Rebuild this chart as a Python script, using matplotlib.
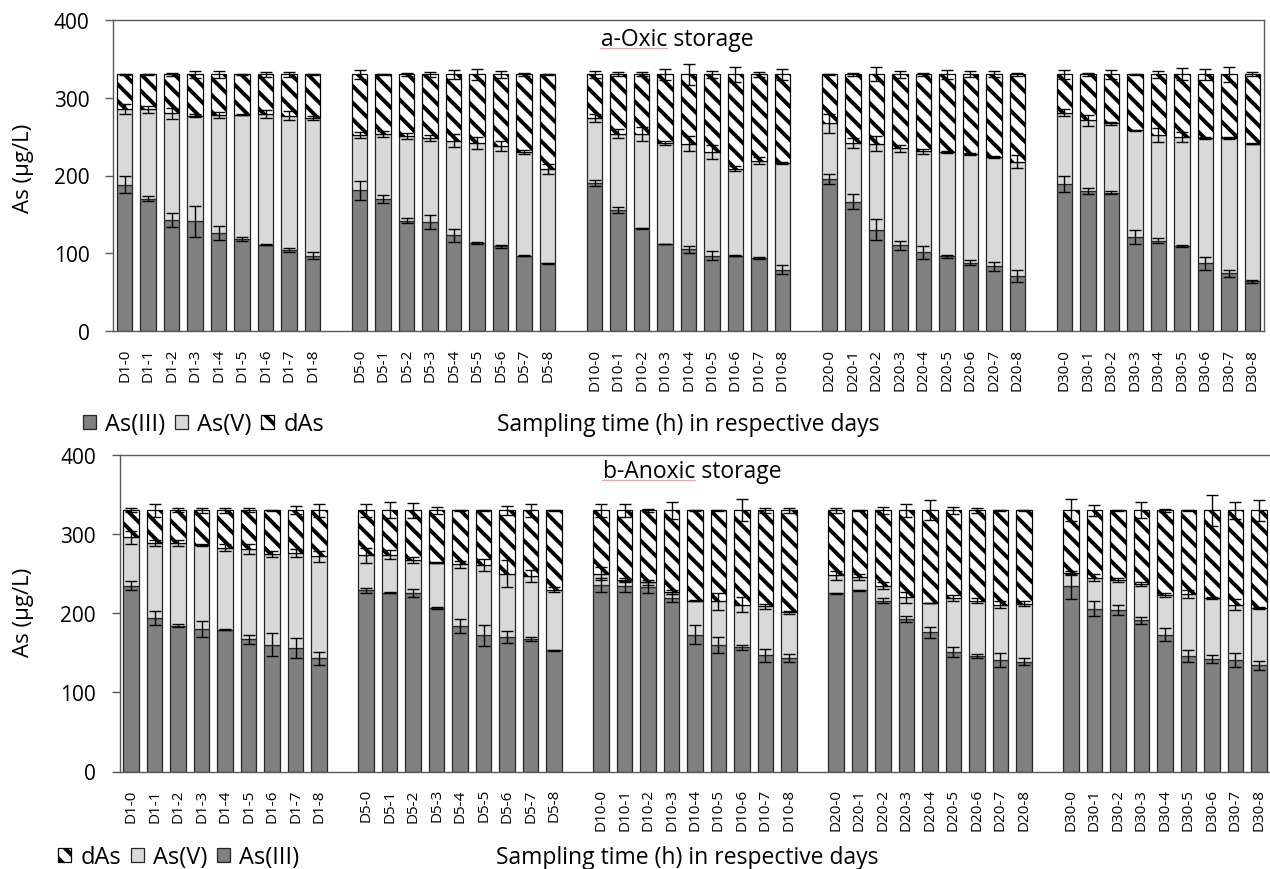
import matplotlib
matplotlib.use('Agg')
import matplotlib.pyplot as plt
from matplotlib.patches import Patch
from matplotlib.lines import Line2D
import numpy as np

plt.rcParams['font.family'] = ['Open Sans', 'DejaVu Sans']
plt.rcParams['hatch.linewidth'] = 2.8
plt.rcParams['hatch.color'] = 'black'

# ---------------- data ----------------
days = ['D1', 'D5', 'D10', 'D20', 'D30']
hours = ['0', '1', '2', '3', '4', '5', '6', '7', '8']
tick_labels = [f'{d}-{h}' for d in days for h in hours]

# a - Oxic storage (segment heights, µg/L)
oxic_as3 = [188, 170, 143, 141, 126, 118, 111, 104, 97,
            181, 170, 142, 140, 123, 113, 109, 97, 87,
            190, 156, 132, 112, 105, 97, 97, 94, 79,
            196, 166, 130, 110, 101, 96, 88, 83, 71,
            189, 180, 178, 121, 116, 109, 87, 74, 64]
oxic_as5 = [97, 115, 137, 136, 152, 160, 168, 173, 177,
            71, 83, 109, 108, 122, 129, 129, 133, 121,
            84, 98, 121, 130, 136, 133, 112, 125, 137,
            71, 76, 111, 125, 130, 134, 140, 141, 147,
            92, 91, 89, 137, 136, 141, 161, 174, 177]
oxic_das = [45, 45, 50, 53, 52, 52, 51, 53, 56,
            78, 77, 79, 82, 85, 88, 92, 100, 122,
            56, 76, 77, 88, 89, 100, 121, 111, 114,
            63, 88, 89, 95, 99, 100, 102, 106, 112,
            49, 59, 63, 72, 78, 80, 82, 82, 89]
oxic_err3 = [11, 3, 9, 20, 9, 2.4, 0.5, 3, 4,
             12, 5, 3, 9.4, 8.6, 1, 2, 0.5, 1,
             4, 4, 0.5, 0.5, 4.7, 5.4, 1, 1, 5.6,
             6.4, 9.7, 13.5, 5.4, 8, 2, 3.6, 5.8, 7.7,
             10, 3.4, 2, 8.6, 3.4, 1, 8.6, 4.3, 2]
oxic_err5 = [6.4, 4.7, 7, 2, 3.6, 0.5, 5, 6, 3,
             4, 3.6, 4, 4, 8.6, 8, 6, 2.6, 6.4,
             4.7, 6.4, 9, 2.8, 9.7, 9.2, 2.8, 4.7, 1,
             11.8, 6.4, 9.4, 4.7, 3.6, 1.5, 1.5, 1.5, 8.8,
             4, 7, 2, 0.5, 9.2, 6.4, 1, 1, 0.5]
oxic_errd = [1, 0.3, 1.5, 4, 4, 0.3, 3, 3, 0.3,
             5.4, 0.5, 2, 3, 6, 7.5, 4, 1.5, 1,
             4.3, 2.6, 2.6, 7.3, 13, 5, 9.2, 3.6, 7.5,
             0.3, 2, 9, 4.7, 1.5, 5.8, 3.8, 3.8, 2,
             5.4, 1.5, 5.4, 0.3, 5, 7.7, 7, 10, 2.6]

# b - Anoxic storage (segment heights, µg/L)
anox_as3 = [235, 194, 184, 180, 179, 167, 160, 156, 143,
            229, 226, 226, 207, 184, 172, 170, 167, 153,
            236, 234, 233, 219, 173, 160, 157, 147, 143,
            225, 229, 216, 193, 176, 151, 146, 141, 139,
            234, 206, 204, 191, 173, 146, 142, 141, 134]
anox_as5 = [61, 95, 105, 106, 104, 114, 115, 120, 129,
            44, 48, 41, 57, 78, 89, 80, 80, 77,
            14, 8, 6, 8, 43, 55, 54, 62, 58,
            23, 17, 19, 27, 37, 68, 70, 70, 73,
            17, 39, 38, 46, 50, 78, 77, 70, 73]
anox_das = [34, 41, 41, 44, 47, 49, 55, 54, 58,
            57, 56, 63, 66, 68, 69, 80, 83, 100,
            80, 88, 91, 103, 114, 115, 119, 121, 129,
            82, 84, 95, 110, 117, 111, 114, 119, 118,
            79, 85, 88, 93, 107, 106, 111, 119, 123]
anox_err3 = [6, 9, 2, 10, 0.5, 6, 14.5, 13, 8,
             3, 0.5, 5, 1, 9, 13, 8, 2.5, 1,
             9, 7, 7, 5, 12, 10, 3, 8, 5,
             0.5, 0.5, 3, 4, 7, 6, 3, 9, 4,
             16, 10, 6, 4.6, 8.4, 7, 5.5, 9, 6]
anox_err5 = [8, 4, 4, 1, 4, 6, 4, 5.5, 7,
             9, 5.5, 4, 1, 4.6, 8, 17, 8, 3,
             8, 3, 3, 3, 0.5, 11, 10, 3, 2,
             6, 4, 4, 7, 0.5, 4, 3, 4, 3,
             3, 4.6, 2, 2, 2, 5, 1, 6.7, 1]
anox_errd = [2.5, 8, 2.5, 3.5, 3.5, 2.5, 1, 5, 8,
             8, 10, 9, 4, 0.3, 0.3, 6, 8, 1,
             8, 8, 2, 11, 0.3, 0.3, 14, 3, 3,
             3, 1, 4, 8, 12.6, 4, 3, 0.3, 0.3,
             14, 7, 1, 10, 2, 0.3, 20, 10.5, 13]

# ---------------- styling ----------------
C3 = '#808080'
C5 = '#d9d9d9'
EDGE = '#262626'
SPINE = '#595959'
W, H = 1270, 870

fig = plt.figure(figsize=(W / 100, H / 100), dpi=100)


def fx(px):
    return px / W


def fy(py):
    return 1 - py / H


ax1 = fig.add_axes([fx(113), fy(332), fx(1264 - 113), (332 - 21) / H])
ax2 = fig.add_axes([fx(119.5), fy(772.5), fx(1270.5 - 119.5), (772.5 - 456) / H])

x = np.array([g * 10 + h for g in range(len(days)) for h in range(len(hours))])


def draw(ax, as3, as5, das, e3, e5, ed):
    as3 = np.array(as3, float)
    as5 = np.array(as5, float)
    das = np.array(das, float)
    bw = 0.66
    ax.bar(x, as3, width=bw, color=C3, edgecolor=EDGE, linewidth=0.9, zorder=2)
    ax.bar(x, as5, width=bw, bottom=as3, color=C5, edgecolor=EDGE, linewidth=0.9, zorder=2)
    ax.bar(x, das, width=bw, bottom=as3 + as5, color='white', edgecolor='black',
           hatch='\\\\', linewidth=0.9, zorder=2)
    kw = dict(fmt='none', ecolor='black', elinewidth=1.0, capsize=4, capthick=1.0, zorder=3)
    ax.errorbar(x, as3, yerr=e3, **kw)
    ax.errorbar(x, as3 + as5, yerr=e5, **kw)
    ax.errorbar(x, as3 + as5 + das, yerr=ed, **kw)
    ax.set_xlim(-0.5, x.max() + 0.5)
    ax.set_ylim(0, 400)
    ax.set_yticks([0, 100, 200, 300, 400])
    ax.set_xticks(x)
    ax.set_xticklabels(tick_labels, rotation=90, fontsize=11)
    ax.tick_params(axis='x', length=0, pad=12)
    ax.tick_params(axis='y', length=6, width=1, color=SPINE, pad=11, labelsize=15)
    for s in ax.spines.values():
        s.set_color(SPINE)
        s.set_linewidth(1)


draw(ax1, oxic_as3, oxic_as5, oxic_das, oxic_err3, oxic_err5, oxic_errd)
draw(ax2, anox_as3, anox_as5, anox_das, anox_err3, anox_err5, anox_errd)
ax2.spines['right'].set_visible(False)

for ax, yc in ((ax1, 168), (ax2, 612)):
    ax.set_ylabel('As (µg/L)', fontsize=16, va='center')
    ax.yaxis.set_label_coords(fx(23), fy(yc), transform=fig.transFigure)

ax1.text(fx(677), fy(40), 'a-Oxic storage', transform=fig.transFigure,
         ha='center', va='center', fontsize=16.5)
ax2.text(fx(692), fy(472), 'b-Anoxic storage', transform=fig.transFigure,
         ha='center', va='center', fontsize=16.5)
# spell-check underline seen in the source image
fig.add_artist(Line2D([fx(600), fx(667)], [fy(49), fy(49)], color='#f2a3a3', lw=0.8))
fig.add_artist(Line2D([fx(602), fx(695)], [fy(481), fy(481)], color='#f2a3a3', lw=0.8))

fig.text(fx(688), fy(425), 'Sampling time (h) in respective days', ha='center', va='center',
         fontsize=16.5)
fig.text(fx(687), fy(858), 'Sampling time (h) in respective days', ha='center', va='center',
         fontsize=16.5)

h3 = Patch(facecolor=C3, edgecolor=EDGE, linewidth=0.9, label='As(III)')
h5 = Patch(facecolor=C5, edgecolor=EDGE, linewidth=0.9, label='As(V)')
hd = Patch(facecolor='white', edgecolor='black', hatch='\\\\', linewidth=0.9, label='dAs')
legkw = dict(loc='center left', ncol=3, frameon=False, fontsize=17, handlelength=0.55,
             handleheight=0.55, handletextpad=0.4, columnspacing=0.4, borderpad=0,
             borderaxespad=0)
fig.legend(handles=[h3, h5, hd], bbox_to_anchor=(fx(83), fy(425)), **legkw)
fig.legend(handles=[hd, h5, h3], bbox_to_anchor=(fx(58), fy(858)), **legkw)

fig.savefig('out.png', dpi=100)
